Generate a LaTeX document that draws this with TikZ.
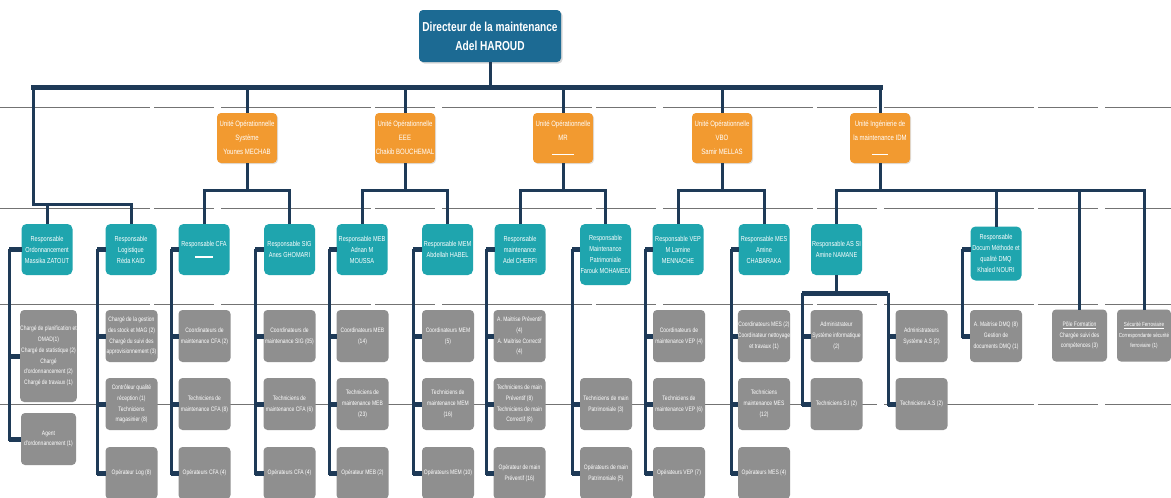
\documentclass[tikz,border=0pt]{standalone}
\usepackage{fontspec}
\setmainfont{Liberation Sans}[FakeStretch=0.78]
\usetikzlibrary{shadows}

\definecolor{linenavy}{HTML}{1E3A57}
\definecolor{dirblue}{HTML}{1C6A93}
\definecolor{unitorange}{HTML}{F29A30}
\definecolor{respteal}{HTML}{1FA5AE}
\definecolor{staffgray}{HTML}{8F8F8F}

\begin{document}
\begin{tikzpicture}[x=1pt,y=-1pt,
  card/.style={rounded corners=4pt, text=white, align=center, inner sep=0pt, outer sep=0pt},
  director/.style={card, fill=dirblue, minimum width=142, minimum height=52,
    font=\bfseries\fontsize{13}{19}\selectfont,
    drop shadow={shadow xshift=1.5pt, shadow yshift=-1.5pt, opacity=0.3}},
  unit/.style={card, fill=unitorange, minimum width=60, minimum height=50,
    font=\fontsize{7.7}{14}\selectfont,
    drop shadow={shadow xshift=1pt, shadow yshift=-1pt, opacity=0.25}},
  resp/.style={card, rounded corners=5pt, fill=respteal, minimum width=51, minimum height=51,
    font=\fontsize{7.2}{11}\selectfont},
  staff/.style={card, fill=staffgray, minimum width=52, minimum height=52,
    font=\fontsize{6.4}{10.8}\selectfont},
  bus/.style={draw=linenavy, line width=5pt},
  link/.style={draw=linenavy, line width=3pt},
  stub/.style={draw=linenavy, line width=5pt},
  scan/.style={draw=black!55, line width=0.6pt, dash pattern=on 150pt off 4pt on 60pt off 7pt}
]
\useasboundingbox (0,0) rectangle (1171,498);
\fill[white] (0,0) rectangle (1171,498);

% faint ruled lines across the sheet
\foreach \yy in {107,208,304,404}
  \draw[scan] (0,\yy) -- (1171,\yy);

% ---------- top level ----------
\node[director] (dir) at (490,36) {Directeur de la maintenance\\Adel HAROUD};

\node[unit] (uSys) at (247,138) {Unité Opérationnelle\\Système\\Younes MECHAB};
\node[unit] (uEEE) at (405,138) {Unité Opérationnelle\\EEE\\Chakib BOUCHEMAL};
\node[unit] (uMR)  at (563,138) {Unité Opérationnelle\\MR\\\rule{22pt}{1.2pt}};
\node[unit] (uVBO) at (722,138) {Unité Opérationnelle\\VBO\\Samir MELLAS};
\node[unit] (uIDM) at (880,138) {Unité Ingénierie de\\la maintenance IDM\\\rule{16pt}{1.2pt}};

% ---------- managers ----------
\node[resp] (rOrd) at (47,249.5)    {Responsable\\Ordonnancement\\Massika ZATOUT};
\node[resp] (rLog) at (131,249.5)   {Responsable\\Logistique\\Réda KAID};
\node[resp] (rCFA) at (204,249.5)   {Responsable CFA\\\rule{18pt}{1.2pt}};
\node[resp] (rSIG) at (289.5,249.5) {Responsable SIG\\Anes GHOMARI};
\node[resp] (rMEB) at (362,249.5)   {Responsable MEB\\Adnan M\\MOUSSA};
\node[resp] (rMEM) at (447.5,249.5) {Responsable MEM\\Abdellah HABEL};
\node[resp] (rChe) at (520,249.5)   {Responsable\\maintenance\\Adel CHERFI};
\node[resp, minimum height=61] (rPat) at (605.5,254.5) {Responsable\\Maintenance\\Patrimoniale\\Farouk MOHAMEDI};
\node[resp] (rVEP) at (678,249.5)   {Responsable VEP\\M Lamine\\MENNACHE};
\node[resp] (rMES) at (764,249.5)   {Responsable MES\\Amine\\CHABARAKA};
\node[resp] (rASI) at (836.5,249.5) {Responsable AS SI\\Amine NAMANE};
\node[resp, minimum height=54] (rDoc) at (996,253.5) {Responsable\\Docum Méthode et\\qualité DMQ\\Khaled NOURI};

% ---------- staff ----------
\node[staff, minimum width=55, minimum height=92] (cOrd1) at (48.5,356)
  {Chargé de planification et\\OMAD(1)\\Chargé de statistique (2)\\Chargé\\d'ordonnancement (2)\\Chargé de travaux (1)};
\node[staff, minimum width=55] (cOrd2) at (48.5,439) {Agent\\d'ordonnancement (1)};

\node[staff] (cLog1) at (131.5,336) {Chargé de la gestion\\des stock et MAG (2)\\Chargé du suivi des\\approvisionnement (3)};
\node[staff] (cLog2) at (131.5,404) {Contrôleur qualité\\réception (1)\\Techniciens\\magasinier (8)};
\node[staff] (cLog3) at (131.5,473) {Opérateur Log (8)};

\node[staff] (cCFA1) at (204.5,336) {Coordinateurs de\\maintenance CFA (2)};
\node[staff] (cCFA2) at (204.5,404) {Techniciens de\\maintenance CFA (8)};
\node[staff] (cCFA3) at (204.5,473) {Opérateurs CFA (4)};

\node[staff] (cSIG1) at (289.5,336) {Coordinateurs de\\maintenance SIG (05)};
\node[staff] (cSIG2) at (289.5,404) {Techniciens de\\maintenance CFA (6)};
\node[staff] (cSIG3) at (289.5,473) {Opérateurs CFA (4)};

\node[staff] (cMEB1) at (362.5,336) {Coordinateurs MEB\\(14)};
\node[staff] (cMEB2) at (362.5,404) {Techniciens de\\maintenance MEB\\(23)};
\node[staff] (cMEB3) at (362.5,473) {Opérateur MEB (2)};

\node[staff] (cMEM1) at (448,336) {Coordinateurs MEM\\(5)};
\node[staff] (cMEM2) at (448,404) {Techniciens de\\maintenance MEM\\(16)};
\node[staff] (cMEM3) at (448,473) {Opérateurs MEM (10)};

\node[staff] (cChe1) at (519.5,336) {A. Maitrise Préventif\\(4)\\A. Maitrise Correctif\\(4)};
\node[staff] (cChe2) at (519.5,404) {Techniciens de main\\Préventif (8)\\Techniciens de main\\Correctif (8)};
\node[staff] (cChe3) at (519.5,473) {Opérateur de main\\Préventif (16)};

\node[staff] (cPat2) at (606,404) {Techniciens de main\\Patrimoniale (3)};
\node[staff] (cPat3) at (606,473) {Opérateurs de main\\Patrimoniale (5)};

\node[staff] (cVEP1) at (679,336) {Coordinateurs de\\maintenance VEP (4)};
\node[staff] (cVEP2) at (679,404) {Techniciens de\\maintenance VEP (6)};
\node[staff] (cVEP3) at (679,473) {Opérateurs VEP (7)};

\node[staff] (cMES1) at (764,336) {Coordinateurs MES (2)\\Coordinateur nettoyage\\et travaux (1)};
\node[staff] (cMES2) at (764,404) {Techniciens\\maintenance MES\\(12)};
\node[staff] (cMES3) at (764,473) {Opérateurs MES (4)};

\node[staff] (sA1) at (836.5,336) {Administrateur\\Système informatique\\(2)};
\node[staff] (sA2) at (836.5,404) {Techniciens S.I (2)};
\node[staff] (sA3) at (921.5,336) {Administrateurs\\Système A.S (2)};
\node[staff] (sA4) at (921.5,404) {Techniciens A.S (2)};

\node[staff] (cDoc1) at (996,336) {A. Maitrise DMQ (8)\\Gestion de\\documents DMQ (1)};

\node[staff, minimum width=55] (pole) at (1079.5,335.5) {\underline{Pôle Formation}\\Chargée suivi des\\compétences (3)};
\node[staff, minimum width=54, font=\fontsize{5.9}{10.8}\selectfont] (secu) at (1144,335.5)
  {\underline{Sécurité Ferroviaire}\\Correspondante sécurité\\ferroviaire (1)};

% ---------- main bus ----------
\coordinate (busL) at (33,87);
\coordinate (busR) at (880,87);
\coordinate (lgL)  at (33,204);
\draw[link] (dir.south) -- (dir.south |- busL);
\draw[bus, line cap=rect] (busL) -- (busR);
\foreach \u in {uSys,uEEE,uMR,uVBO,uIDM}
  \draw[link] (\u.north |- busL) -- (\u.north);
\draw[link] (busL) -- (lgL) -| (rOrd.north);
\draw[link] (lgL) -| (rLog.north);

% ---------- unit buses ----------
\coordinate (sysB) at (247,190);
\coordinate (eeeB) at (405,190);
\coordinate (mrB)  at (563,190);
\coordinate (vboB) at (722,190);
\coordinate (idmB) at (880,190);
\draw[link] (uSys.south) -- (sysB) -| (rCFA.north);
\draw[link] (sysB) -| (rSIG.north);
\draw[link] (uEEE.south) -- (eeeB) -| (rMEB.north);
\draw[link] (eeeB) -| (rMEM.north);
\draw[link] (uMR.south) -- (mrB) -| (rChe.north);
\draw[link] (mrB) -| (rPat.north);
\draw[link] (uVBO.south) -- (vboB) -| (rVEP.north);
\draw[link] (vboB) -| (rMES.north);
\draw[link] (uIDM.south) -- (idmB) -| (rASI.north);
\draw[link] (idmB) -| (rDoc.north);
\draw[link] (idmB) -| (pole.north);
\draw[link] (idmB) -| (secu.north);

% ---------- side elbows from managers to staff ----------
\coordinate (eOrd) at (9,249);
\coordinate (eLog) at (97,249);
\coordinate (eCFA) at (171,249);
\coordinate (eSIG) at (255,249);
\coordinate (eMEB) at (329,249);
\coordinate (eMEM) at (413,249);
\coordinate (eChe) at (486,249);
\coordinate (ePat) at (572,249);
\coordinate (eVEP) at (645,249);
\coordinate (eMES) at (731,249);
\coordinate (eDoc) at (962,249);

\draw[link] (eOrd) |- (cOrd2.west);
\draw[stub] (eOrd) -- (eOrd -| rOrd.west);
\foreach \c in {cOrd1,cOrd2} \draw[stub] (eOrd |- \c.west) -- (\c.west);

\foreach \g in {Log,CFA,SIG,MEB,MEM,Che,VEP,MES}{
  \draw[link] (e\g) |- (c\g3.west);
  \draw[stub] (e\g) -- (e\g -| r\g.west);
  \foreach \k in {1,2,3} \draw[stub] (e\g |- c\g\k.west) -- (c\g\k.west);
}

\draw[link] (ePat) |- (cPat3.west);
\draw[stub] (ePat) -- (ePat -| rPat.west);
\foreach \c in {cPat2,cPat3} \draw[stub] (ePat |- \c.west) -- (\c.west);

\draw[link] (eDoc) |- (cDoc1.west);
\draw[stub] (eDoc) -- (eDoc -| rDoc.west);
\draw[stub] (eDoc |- cDoc1.west) -- (cDoc1.west);

% ---------- AS SI bracket ----------
\coordinate (aBus) at (836.5,293);
\coordinate (aL) at (802,293);
\coordinate (aR) at (888,293);
\draw[link] (rASI.south) -- (aBus);
\draw[stub] (aL) -- (aR);
\draw[link] (aL) |- (sA2.west);
\draw[link] (aR) |- (sA4.west);
\foreach \c in {sA1,sA2} \draw[stub] (aL |- \c.west) -- (\c.west);
\foreach \c in {sA3,sA4} \draw[stub] (aR |- \c.west) -- (\c.west);

\end{tikzpicture}
\end{document}
